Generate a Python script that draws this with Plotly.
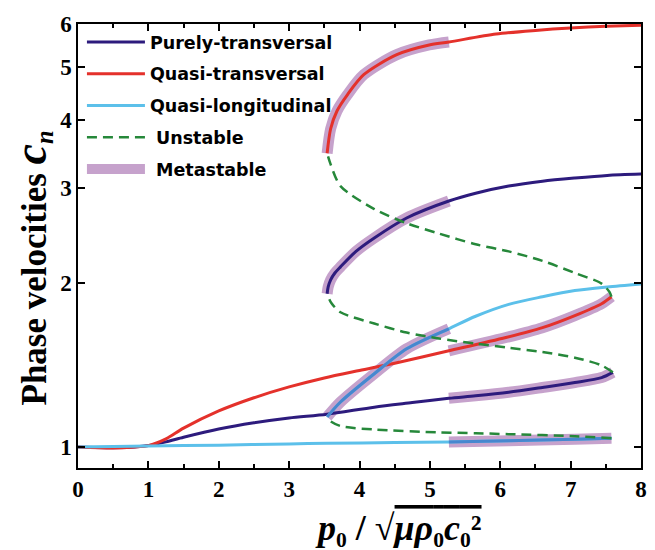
import plotly.graph_objects as go

# ---------------- data ----------------
# Purely-transversal: lower stable, unstable, upper stable branches
pt_lo_x = [0, 0.5, 0.8, 1.0, 1.25, 1.5, 2.0, 2.5, 3.0, 3.54, 4.21, 4.75, 5.27, 5.65, 6.12, 6.60, 7.06, 7.44, 7.60]
pt_lo_y = [1.0, 0.997, 1.0, 1.006, 1.022, 1.042, 1.079, 1.108, 1.131, 1.149, 1.184, 1.207, 1.229, 1.242, 1.261, 1.287, 1.314, 1.342, 1.372]
pt_un_x = [7.60, 7.44, 7.06, 6.60, 6.12, 5.65, 5.13, 4.67, 4.21, 3.73, 3.60, 3.54]
pt_un_y = [1.372, 1.413, 1.460, 1.495, 1.523, 1.550, 1.583, 1.624, 1.687, 1.770, 1.840, 1.914]
pt_up_x = [3.54, 3.555, 3.59, 3.65, 3.73, 3.95, 4.21, 4.67, 5.27, 5.65, 6.12, 6.60, 7.06, 7.52, 8.0]
pt_up_y = [1.914, 1.97, 2.03, 2.09, 2.145, 2.29, 2.424, 2.638, 2.835, 2.93, 3.02, 3.083, 3.125, 3.160, 3.177]

# Quasi-transversal
qt_lo_x = [0, 0.5, 0.8, 1.0, 1.25, 1.5, 2.0, 2.5, 3.0, 3.5, 4.0, 4.5, 5.27, 6.08, 6.60, 7.06, 7.44, 7.58]
qt_lo_y = [1.0, 0.996, 1.0, 1.006, 1.035, 1.083, 1.165, 1.232, 1.290, 1.340, 1.383, 1.426, 1.503, 1.59, 1.658, 1.745, 1.835, 1.89]
qt_un_x = [7.58, 7.55, 7.44, 7.06, 6.60, 6.12, 5.65, 5.13, 4.67, 4.21, 3.73, 3.59, 3.54]
qt_un_y = [1.89, 1.93, 1.998, 2.09, 2.20, 2.29, 2.36, 2.47, 2.58, 2.74, 3.02, 3.31, 3.47]
qt_up_x = [3.54, 3.59, 3.68, 3.83, 4.06, 4.53, 4.99, 5.27, 5.94, 6.5, 7.0, 7.5, 8.0]
qt_up_y = [3.47, 3.85, 4.15, 4.45, 4.84, 5.27, 5.49, 5.56, 5.75, 5.84, 5.90, 5.94, 5.97]

# Quasi-longitudinal
ql_lo_x = [0, 1, 2, 3, 3.54, 4.5, 5.27, 6.12, 7.06, 7.58]
ql_lo_y = [1.0, 1.004, 1.008, 1.013, 1.016, 1.019, 1.022, 1.027, 1.033, 1.038]
ql_un_x = [7.58, 7.06, 6.12, 5.65, 5.13, 4.21, 3.73, 3.57, 3.54]
ql_un_y = [1.038, 1.047, 1.056, 1.060, 1.064, 1.077, 1.093, 1.12, 1.136]
ql_up_x = [3.54, 3.73, 4.21, 4.67, 5.27, 5.65, 6.12, 6.60, 7.06, 7.52, 8.0]
ql_up_y = [1.136, 1.21, 1.364, 1.516, 1.650, 1.74, 1.83, 1.89, 1.94, 1.97, 1.995]

# metastable ranges of p0 (upper branches / lower branches)
meta_upper = (3.54, 5.27)
meta_lower = (5.27, 7.60)

x_ticks = [0, 1, 2, 3, 4, 5, 6, 7, 8]
y_ticks = [1, 2, 3, 4, 5, 6]

# ---------------- helpers ----------------
def seg(xs, ys, rng):
    a, b = rng
    out = [(x, y) for x, y in zip(xs, ys) if a - 1e-9 <= x <= b + 1e-9]
    return [p[0] for p in out], [p[1] for p in out]

def join(*parts):
    X, Y = [], []
    for xs, ys in parts:
        if X:
            X.append(None); Y.append(None)
        X += list(xs); Y += list(ys)
    return X, Y

NAVY = "#2D1B7D"
RED = "#E4312B"
LBLUE = "#5CC0EA"
GREEN = "#26883A"
LILAC = "#C6A2CC"
MBLUE = "#4787CF"
SM = 0.8

fig = go.Figure()

# Metastable (drawn underneath)
mx, my = join(seg(pt_up_x, pt_up_y, meta_upper), seg(pt_lo_x, pt_lo_y, meta_lower),
              seg(qt_up_x, qt_up_y, meta_upper), seg(qt_lo_x, qt_lo_y, meta_lower),
              seg(ql_up_x, ql_up_y, meta_upper), seg(ql_lo_x, ql_lo_y, meta_lower))
fig.add_trace(go.Scatter(x=mx, y=my, mode="lines", name=" Metastable", legendrank=5,
                         legendgroup="e", line=dict(color=LILAC, width=11, shape="spline", smoothing=SM)))

x, y = join((pt_lo_x, pt_lo_y), (pt_up_x, pt_up_y))
fig.add_trace(go.Scatter(x=x, y=y, mode="lines", name="Purely-transversal", legendrank=1,
                         legendgroup="a", line=dict(color=NAVY, width=3, shape="spline", smoothing=SM)))
x, y = join((qt_lo_x, qt_lo_y), (qt_up_x, qt_up_y))
fig.add_trace(go.Scatter(x=x, y=y, mode="lines", name="Quasi-transversal", legendrank=2,
                         legendgroup="b", line=dict(color=RED, width=3, shape="spline", smoothing=SM)))
x, y = join((ql_lo_x, ql_lo_y), (ql_up_x, ql_up_y))
fig.add_trace(go.Scatter(x=x, y=y, mode="lines", name="Quasi-longitudinal", legendrank=3,
                         legendgroup="c", line=dict(color=LBLUE, width=3, shape="spline", smoothing=SM)))
# light blue over the metastable band looks darker
x, y = join(seg(ql_up_x, ql_up_y, meta_upper), seg(ql_lo_x, ql_lo_y, meta_lower))
fig.add_trace(go.Scatter(x=x, y=y, mode="lines", showlegend=False, legendgroup="c",
                         line=dict(color=MBLUE, width=3, shape="spline", smoothing=SM)))

x, y = join((pt_un_x, pt_un_y), (qt_un_x, qt_un_y), (ql_un_x, ql_un_y))
fig.add_trace(go.Scatter(x=x, y=y, mode="lines", name=" Unstable", legendrank=4,
                         legendgroup="d", line=dict(color=GREEN, width=2.5, dash="10px,6px", shape="spline", smoothing=SM)))

serif = "Liberation Serif"
fig.update_layout(
    width=655, height=550,
    margin=dict(l=78, r=8, t=24, b=82),
    paper_bgcolor="white", plot_bgcolor="white",
    showlegend=True,
    legend=dict(x=0.007, y=1.0, xanchor="left", yanchor="top", bgcolor="rgba(0,0,0,0)",
                font=dict(family="DejaVu Sans", size=17.5, color="black", weight="bold"),
                traceorder="grouped", tracegroupgap=6, itemwidth=58),
    xaxis=dict(range=[0, 8], tickvals=x_ticks, ticktext=[str(v) for v in x_ticks],
               ticks="inside", ticklen=7, tickwidth=1.5, tickcolor="black",
               showline=True, linecolor="black", linewidth=1.5, mirror="allticks",
               showgrid=False, zeroline=False,
               minor=dict(dtick=0.5, tick0=0, ticks="inside", ticklen=4, tickwidth=1.5, tickcolor="black", showgrid=False),
               tickfont=dict(family=serif, size=23, color="black", weight="bold")),
    yaxis=dict(type="log", range=[-0.0386, 0.77815], tickvals=y_ticks, ticktext=[str(v) for v in y_ticks],
               ticks="inside", ticklen=7, tickwidth=1.5, tickcolor="black",
               showline=True, linecolor="black", linewidth=1.5, mirror="allticks",
               showgrid=False, zeroline=False,
               tickfont=dict(family=serif, size=23, color="black", weight="bold")),
    annotations=[
        dict(xref="paper", yref="paper", x=-0.083, y=0.45, xanchor="center", yanchor="middle",
             textangle=-90, showarrow=False,
             text="<b>Phase velocities </b><span style='font-size:46px'><b><i>c</i></b></span><sub><b><i>n</i></b></sub>",
             font=dict(family=serif, size=35, color="black")),
        dict(xref="paper", yref="paper", x=0.569, y=-0.135, xanchor="center", yanchor="middle",
             showarrow=False,
             text="<b><i>p</i>₀ / √<span style='text-decoration:overline'><i>μρ</i>₀<i>c</i>₀²</span></b>",
             font=dict(family=serif, size=36, color="black")),
    ],
)

fig.write_html("out.html")
